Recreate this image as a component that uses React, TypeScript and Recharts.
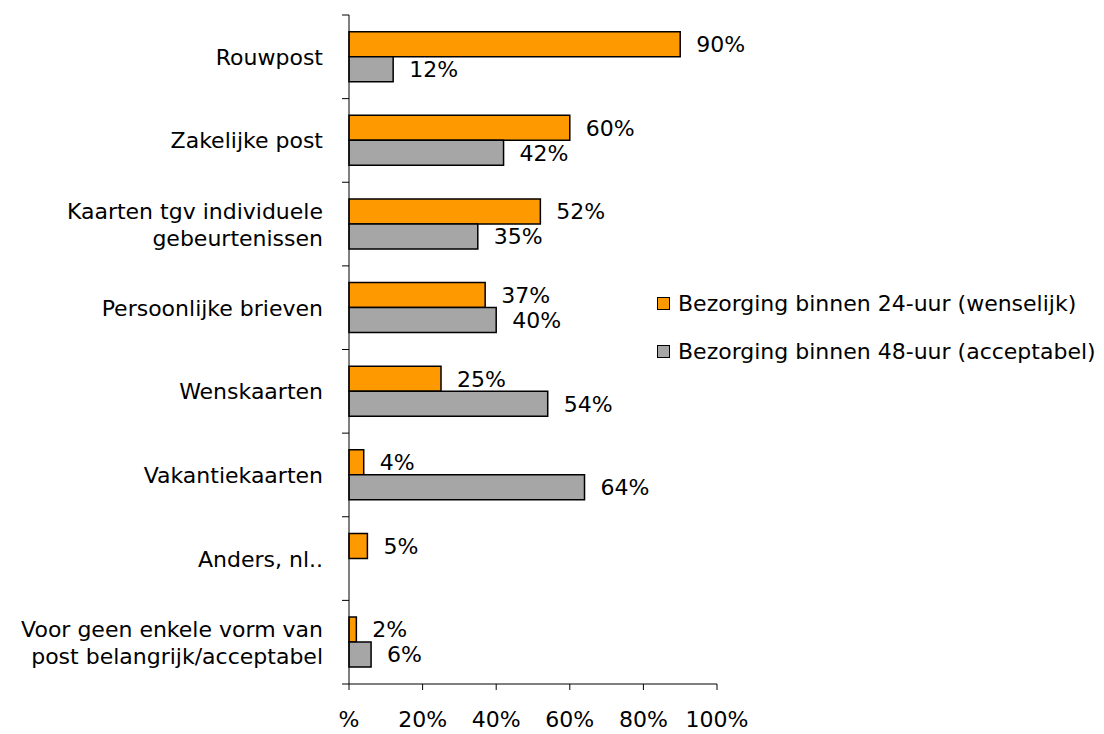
import { BarChart, Bar, XAxis, YAxis, Legend, LabelList } from 'recharts';

// category labels, split into the lines they are drawn on
const categoryLines: string[][] = [
  ['Rouwpost'],
  ['Zakelijke post'],
  ['Kaarten tgv individuele', 'gebeurtenissen'],
  ['Persoonlijke brieven'],
  ['Wenskaarten'],
  ['Vakantiekaarten'],
  ['Anders, nl..'],
  ['Voor geen enkele vorm van', 'post belangrijk/acceptabel'],
];

const wenselijk: (number | null)[] = [90, 60, 52, 37, 25, 4, 5, 2];
const acceptabel: (number | null)[] = [12, 42, 35, 40, 54, 64, null, 6];

const seriesNames = [
  'Bezorging binnen 24-uur (wenselijk)',
  'Bezorging binnen 48-uur (acceptabel)',
];
const seriesColors = ['#FF9900', '#A6A6A6'];

const xTicks = [0, 20, 40, 60, 80, 100];

const data = categoryLines.map((lines, i) => ({
  name: lines.join(' '),
  wenselijk: wenselijk[i],
  acceptabel: acceptabel[i],
}));

const FONT = '"DejaVu Sans", Verdana, sans-serif';
const FONT_SIZE = 22;
const LINE_HEIGHT = 27;

const pct = (v: unknown) => (v == null ? '' : `${v}%`);
// the source chart prints the zero tick as a bare "%"
const axisPct = (v: number) => (v === 0 ? '%' : `${v}%`);

const CategoryTick = (props: any) => {
  const { x, y, payload, index, visibleTicksCount } = props;
  const lines = categoryLines[index] ?? [String(payload.value)];
  const half = payload.offset ?? 0;
  const startDy = -((lines.length - 1) * LINE_HEIGHT) / 2;
  return (
    <g>
      <line x1={x - 7} x2={x} y1={y - half} y2={y - half} stroke="#000" />
      {index === visibleTicksCount - 1 && (
        <line x1={x - 7} x2={x} y1={y + half} y2={y + half} stroke="#000" />
      )}
      <text x={x - 26} y={y} textAnchor="end" fontSize={FONT_SIZE} fill="#000" fontFamily={FONT}>
        {lines.map((line, i) => (
          <tspan key={i} x={x - 26} dy={i === 0 ? startDy + 8 : LINE_HEIGHT}>
            {line}
          </tspan>
        ))}
      </text>
    </g>
  );
};

const LegendContent = () => (
  <div style={{ fontFamily: FONT, fontSize: FONT_SIZE, color: '#000' }}>
    {seriesNames.map((name, i) => (
      <div key={name} style={{ display: 'flex', alignItems: 'center', height: 48 }}>
        <span
          style={{
            width: 11,
            height: 11,
            background: seriesColors[i],
            border: '1px solid #000',
            marginRight: 8,
          }}
        />
        <span style={{ whiteSpace: 'nowrap' }}>{name}</span>
      </div>
    ))}
  </div>
);

export default function App() {
  return (
    <div style={{ fontFamily: FONT }}>
      <BarChart
        width={1088}
        height={726}
        data={data}
        layout="vertical"
        margin={{ top: 7, right: 379, bottom: 0, left: 0 }}
        barCategoryGap="20%"
        barGap={0}
      >
        <XAxis
          type="number"
          domain={[0, 100]}
          ticks={xTicks}
          tickFormatter={axisPct}
          axisLine={{ stroke: '#000' }}
          tickLine={{ stroke: '#000' }}
          tickSize={6}
          tickMargin={21}
          height={50}
          tick={{ fill: '#000', fontSize: FONT_SIZE, fontFamily: FONT }}
          interval={0}
        />
        <YAxis
          type="category"
          dataKey="name"
          width={341}
          axisLine={{ stroke: '#000' }}
          tickLine={false}
          tickSize={0}
          tickMargin={0}
          tick={<CategoryTick />}
          interval={0}
        />
        <Legend
          layout="vertical"
          align="center"
          verticalAlign="middle"
          content={<LegendContent />}
          wrapperStyle={{ left: 649, top: 271, width: 'auto', height: 'auto' }}
        />
        <Bar
          dataKey="wenselijk"
          name={seriesNames[0]}
          fill={seriesColors[0]}
          stroke="#000"
          strokeWidth={1.5}
          isAnimationActive={false}
        >
          <LabelList
            dataKey="wenselijk"
            position="right"
            offset={16}
            formatter={pct}
            fill="#000"
            fontSize={FONT_SIZE}
            fontFamily={FONT}
          />
        </Bar>
        <Bar
          dataKey="acceptabel"
          name={seriesNames[1]}
          fill={seriesColors[1]}
          stroke="#000"
          strokeWidth={1.5}
          isAnimationActive={false}
        >
          <LabelList
            dataKey="acceptabel"
            position="right"
            offset={16}
            formatter={pct}
            fill="#000"
            fontSize={FONT_SIZE}
            fontFamily={FONT}
          />
        </Bar>
      </BarChart>
    </div>
  );
}
